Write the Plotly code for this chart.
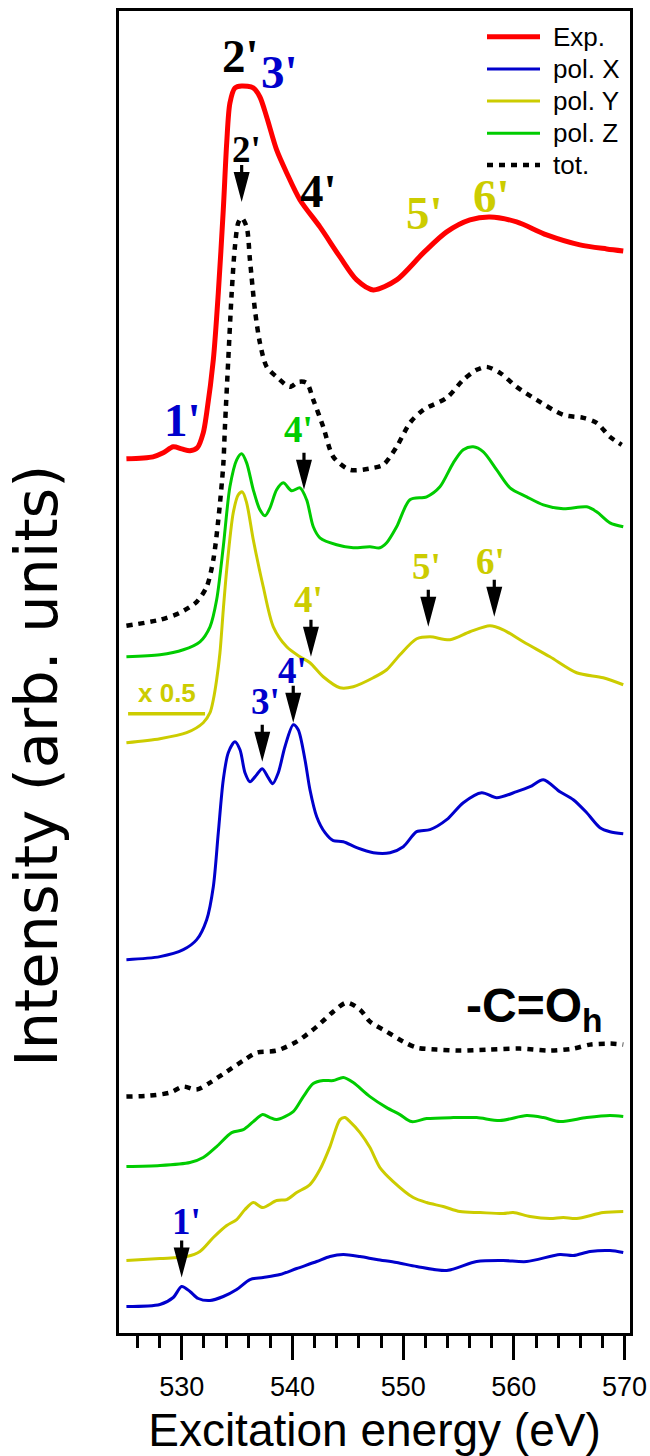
import plotly.graph_objects as go

# ---------------- data (energy in eV, intensity in arb. units) ----------------
exp_E = [525.0, 527.4, 528.33, 529.23, 529.99, 530.74, 531.4, 531.94, 532.25, 532.85, 533.3, 533.75,
         534.06, 534.35, 534.8, 535.41, 536.46, 537.06, 537.67, 538.57, 539.48, 540.68, 542.48, 544.29,
         545.8, 547.3, 549.41, 551.82, 553.93, 556.03, 557.84, 560.25, 562.96, 565.97, 568.38, 569.88]
exp_I = [876, 878, 882, 888, 886, 884, 887, 902, 922, 975, 1042, 1125,
         1192, 1232, 1247, 1249, 1247, 1238, 1218, 1185, 1162, 1135, 1108, 1078,
         1055, 1045, 1055, 1082, 1103, 1115, 1118, 1113, 1100, 1090, 1086, 1084]

tot_up_E = [525.0, 528.03, 529.84, 531.35, 532.25, 532.85, 533.3, 533.75, 533.9, 534.2, 534.51, 534.8,
            535.1, 535.41, 535.86, 536.16, 536.61, 537.06, 537.67, 538.57, 539.77, 540.52, 541.28, 541.88,
            542.78, 543.69, 545.19, 547.3, 548.2, 549.41, 550.61, 551.82, 553.93, 555.43, 556.64, 557.54,
            558.74, 560.25, 562.06, 564.46, 566.27, 567.48, 568.68, 569.74]
tot_up_I = [709, 715, 722, 733, 748, 775, 815, 870, 908, 975, 1042, 1088,
            1112, 1117, 1108, 1075, 1025, 992, 968, 958, 948, 953, 952, 935,
            908, 878, 865, 867, 870, 888, 912, 925, 937, 955, 965, 968,
            962, 948, 935, 920, 917, 912, 898, 890]

grn_up_E = [525.0, 528.03, 530.14, 531.64, 532.55, 533.15, 533.75, 534.35, 534.96, 535.41, 535.86, 536.46,
            537.06, 537.52, 537.97, 538.57, 539.17, 539.93, 540.68, 541.28, 541.88, 542.48, 543.99, 545.49,
            547.0, 547.9, 548.51, 549.41, 550.61, 552.12, 553.32, 554.53, 555.43, 556.33, 557.24, 558.45,
            559.65, 561.16, 562.66, 564.46, 566.58, 567.48, 568.68, 569.88]
grn_up_I = [678, 680, 685, 693, 708, 735, 788, 848, 875, 881, 872, 845,
            825, 819, 827, 845, 852, 844, 847, 835, 808, 797, 790, 787,
            788, 787, 792, 808, 835, 838, 848, 872, 885, 888, 883, 865,
            847, 838, 830, 826, 828, 823, 812, 808]

yel_up_E = [525.0, 528.03, 530.44, 531.94, 532.55, 532.85, 533.15, 533.45, 533.75, 534.06, 534.65, 535.1,
            535.47, 535.86, 536.46, 537.36, 538.27, 539.48, 540.68, 541.58, 542.78, 544.29, 545.49, 547.3,
            548.51, 549.71, 551.22, 552.42, 554.23, 556.03, 557.84, 559.04, 560.85, 563.26, 565.67, 568.07,
            569.88]
yel_up_I = [592, 596, 602, 612, 622, 635, 655, 682, 725, 765, 822, 840,
            843, 832, 795, 748, 708, 688, 678, 672, 658, 647, 648, 657,
            665, 680, 696, 698, 695, 703, 709, 705, 693, 678, 662, 657,
            650]

blu_up_E = [525.0, 528.03, 530.14, 531.35, 532.25, 532.85, 533.3, 533.75, 534.2, 534.8, 535.26, 535.71,
            536.16, 536.77, 537.27, 537.81, 538.21, 538.72, 539.32, 540.07, 540.52, 541.13, 541.58, 542.19,
            542.94, 543.69, 544.59, 545.8, 547.3, 548.81, 550.01, 551.22, 552.42, 553.93, 555.43, 557.09,
            558.45, 560.25, 561.46, 562.66, 564.16, 565.37, 566.58, 567.78, 568.68, 569.88]
blu_up_I = [375, 378, 385, 395, 415, 448, 502, 555, 582, 593, 585, 562,
            553, 560, 566, 557, 551, 562, 588, 610, 605, 575, 545, 518,
            502, 494, 493, 487, 482, 482, 488, 503, 505, 515, 532, 542,
            537, 543, 548, 555, 543, 535, 522, 507, 503, 501]

tot_lo_E = [525.0, 527.13, 528.93, 530.14, 531.35, 532.55, 534.06, 535.56, 536.77, 538.57, 540.38, 542.19,
            543.69, 544.9, 546.1, 547.0, 548.51, 550.01, 551.22, 553.03, 555.13, 557.54, 560.55, 563.26,
            565.37, 566.88, 568.68, 569.88]
tot_lo_I = [238, 239, 242, 248, 245, 252, 263, 274, 282, 284, 293, 308,
            323, 332, 325, 313, 303, 293, 287, 285, 284, 285, 286, 284,
            286, 290, 291, 290]

grn_lo_E = [525.0, 528.03, 530.74, 531.94, 533.15, 534.51, 535.56, 536.46, 537.31, 537.97, 538.57, 540.07,
            540.98, 541.88, 542.78, 543.69, 544.59, 545.49, 547.0, 548.51, 549.71, 550.76, 552.12, 554.53,
            556.64, 558.74, 561.16, 562.66, 564.16, 566.58, 568.68, 569.88]
grn_lo_I = [168, 169, 172, 177, 188, 202, 205, 213, 220, 217, 215, 223,
            238, 251, 254, 254, 257, 252, 238, 227, 220, 213, 216, 217,
            217, 214, 219, 217, 213, 217, 219, 218]

yel_lo_E = [525.0, 528.03, 530.44, 531.64, 532.85, 534.06, 534.96, 535.71, 536.46, 537.31, 538.57, 539.48,
            540.38, 541.58, 542.48, 543.39, 544.29, 544.74, 545.19, 546.1, 547.0, 547.9, 549.1, 550.91,
            552.12, 553.62, 555.13, 556.94, 559.04, 559.94, 561.46, 563.26, 564.46, 565.67, 568.07, 569.88]
yel_lo_I = [74, 76, 78, 83, 97, 109, 115, 125, 132, 127, 134, 135,
            142, 150, 165, 188, 215, 217, 213, 202, 187, 167, 153, 137,
            132, 128, 123, 122, 121, 122, 118, 116, 117, 116, 122, 123]

blu_lo_E = [525.0, 528.03, 529.23, 529.99, 530.74, 531.49, 532.55, 533.75, 534.96, 536.16, 537.36, 538.87,
            540.38, 542.19, 543.39, 544.59, 546.1, 547.6, 549.41, 551.22, 553.93, 556.64, 559.04, 561.16,
            564.16, 565.37, 566.88, 568.68, 569.88]
blu_lo_I = [28, 30, 37, 48, 43, 36, 34, 38, 45, 55, 57, 60,
            66, 73, 78, 80, 78, 75, 72, 68, 64, 73, 74, 73,
            80, 79, 83, 84, 82]

x_tick_vals = [530, 540, 550, 560, 570]
x_tick_text = ["530", "540", "550", "560", "570"]

# peak labels: text, energy, intensity, colour-key
big_lbl_text = ["2'", "3'", "4'", "5'", "6'", "1'"]
big_lbl_E = [535.26, 538.87, 542.39, 551.97, 558.02, 530.11]
big_lbl_I = [1279, 1263, 1144, 1122, 1139, 915]
big_lbl_c = ["k", "b", "k", "y", "y", "b"]

arr_lbl_text = ["2'", "4'", "4'", "5'", "6'", "3'", "4'", "1'"]
arr_lbl_E = [535.89, 540.58, 541.49, 552.15, 557.93, 537.52, 539.96, 530.47]
arr_lbl_I = [1185, 905, 735, 768, 773, 633, 664, 113]
arr_lbl_c = ["k", "g", "y", "y", "y", "b", "b", "b"]
arr_tip_E = [535.41, 541.04, 541.67, 552.27, 558.23, 537.27, 540.07, 529.99]
arr_tip_I = [1133, 845, 678, 708, 718, 573, 612, 57]

scale_note = "x 0.5"
scale_bar_E = [525.15, 532.1]
scale_bar_I = 621
scale_note_E = 528.66
scale_note_I = 642

group_label = "-C=O<sub>h</sub>"
group_label_E = 561.9
group_label_I = 326

legend_names = ["Exp.", "pol. X", "pol. Y", "pol. Z", "tot."]

x_title = "Excitation energy (eV)"
y_title = "Intensity (arb. units)"

# ---------------- styles ----------------
RED = "#ff0000"
BLUE = "#0000cc"
YEL = "#cccc00"
GRN = "#00cc00"
BLK = "#000000"
cmap = {"k": BLK, "b": BLUE, "y": YEL, "g": GRN}
SANS = "Liberation Sans, Arial, sans-serif"
SERIF = "Liberation Serif, Times New Roman, serif"

fig = go.Figure()

def add(E, I, name, color, width, dash="solid"):
    fig.add_trace(go.Scatter(x=E, y=I, mode="lines", name=name,
                             line=dict(color=color, width=width, dash=dash, shape="spline", smoothing=0.8),
                             showlegend=False, hoverinfo="skip"))

DOT = "6px,6px"
add(blu_lo_E, blu_lo_I, "pol. X", BLUE, 3)
add(yel_lo_E, yel_lo_I, "pol. Y", YEL, 3)
add(grn_lo_E, grn_lo_I, "pol. Z", GRN, 3)
add(tot_lo_E, tot_lo_I, "tot.", BLK, 4.5, DOT)
add(blu_up_E, blu_up_I, "pol. X", BLUE, 3)
add(yel_up_E, yel_up_I, "pol. Y", YEL, 3)
add(grn_up_E, grn_up_I, "pol. Z", GRN, 3)
add(tot_up_E, tot_up_I, "tot.", BLK, 4.5, DOT)
add(exp_E, exp_I, "Exp.", RED, 5)

annotations = []
shapes = []

for t, e, i, c in zip(big_lbl_text, big_lbl_E, big_lbl_I, big_lbl_c):
    annotations.append(dict(x=e, y=i, xref="x", yref="y", text=t, showarrow=False,
                            xanchor="center", yanchor="middle",
                            font=dict(family=SERIF, size=47, color=cmap[c], weight="bold")))
for t, e, i, c in zip(arr_lbl_text, arr_lbl_E, arr_lbl_I, arr_lbl_c):
    annotations.append(dict(x=e, y=i, xref="x", yref="y", text=t, showarrow=False,
                            xanchor="center", yanchor="middle",
                            font=dict(family=SERIF, size=37, color=cmap[c], weight="bold")))

ARROW_PATH = "M-1.6,37 L1.6,37 L1.6,30 L8,30 L0,0 L-8,30 L-1.6,30 Z"
for e, i in zip(arr_tip_E, arr_tip_I):
    shapes.append(dict(type="path", xref="x", yref="y", xsizemode="pixel", ysizemode="pixel",
                       xanchor=e, yanchor=i, path=ARROW_PATH,
                       fillcolor=BLK, line=dict(width=0)))

# x 0.5 note with bar
annotations.append(dict(x=scale_note_E, y=scale_note_I, xref="x", yref="y", text=scale_note,
                        showarrow=False, xanchor="center", yanchor="middle",
                        font=dict(family=SANS, size=26, color=YEL, weight="bold")))
shapes.append(dict(type="line", xref="x", yref="y", x0=scale_bar_E[0], x1=scale_bar_E[1],
                   y0=scale_bar_I, y1=scale_bar_I, line=dict(color=YEL, width=3.5)))

annotations.append(dict(x=group_label_E, y=group_label_I, xref="x", yref="y", text=group_label,
                        showarrow=False, xanchor="center", yanchor="middle",
                        font=dict(family=SANS, size=48, color=BLK, weight="bold")))

# custom legend (paper coordinates)
L, R, T, B = 119, 630, 11, 1333.5
def px2paper(px, py):
    return (px - L) / (R - L), (B - py) / (B - T)

leg_colors = [RED, BLUE, YEL, GRN, BLK]
leg_widths = [5, 3, 3, 3, 4.5]
leg_dash = ["solid", "solid", "solid", "solid", "dot"]
leg_rows_py = [36.7, 69, 101, 133.3, 165]
for name, col, w, d, py in zip(legend_names, leg_colors, leg_widths, leg_dash, leg_rows_py):
    x0, y0 = px2paper(487, py)
    x1, _ = px2paper(540, py)
    shapes.append(dict(type="line", xref="paper", yref="paper", x0=x0, x1=x1, y0=y0, y1=y0,
                       line=dict(color=col, width=w, dash=(DOT if d == "dot" else "solid"))))
    tx, ty = px2paper(551, py)
    annotations.append(dict(x=tx, y=ty, xref="paper", yref="paper", text=name, showarrow=False,
                            xanchor="left", yanchor="middle",
                            font=dict(family=SANS, size=26, color=BLK)))

# y-axis title (placed as rotated text so it can sit where the reference shows it)
ytx, yty = px2paper(37, 766)
annotations.append(dict(x=ytx, y=yty, xref="paper", yref="paper", text=y_title, showarrow=False,
                        textangle=-90, xanchor="center", yanchor="middle",
                        font=dict(family="DejaVu Sans, sans-serif", size=59, color=BLK)))

fig.update_layout(
    width=650, height=1456,
    margin=dict(l=L, r=650 - R, t=T, b=1456 - B, autoexpand=False),
    plot_bgcolor="white", paper_bgcolor="white",
    showlegend=False,
    annotations=annotations, shapes=shapes,
    xaxis=dict(range=[524.33, 570.49], tickmode="array", tickvals=x_tick_vals, ticktext=x_tick_text,
               ticks="outside", ticklen=24, tickwidth=3, tickcolor=BLK,
               minor=dict(dtick=2, tick0=530, ticks="outside", ticklen=12, tickwidth=3, tickcolor=BLK),
               showline=True, linewidth=3, linecolor=BLK, mirror=True,
               showgrid=False, zeroline=False, ticklabelstandoff=4,
               tickfont=dict(family=SANS, size=27, color=BLK),
               title=dict(text=x_title, font=dict(family=SANS, size=46, color=BLK),
                          standoff=36)),
    yaxis=dict(range=[1.5, 1324], showticklabels=False, ticks="",
               showline=True, linewidth=3, linecolor=BLK, mirror=True,
               showgrid=False, zeroline=False),
)

fig.write_html("out.html")
